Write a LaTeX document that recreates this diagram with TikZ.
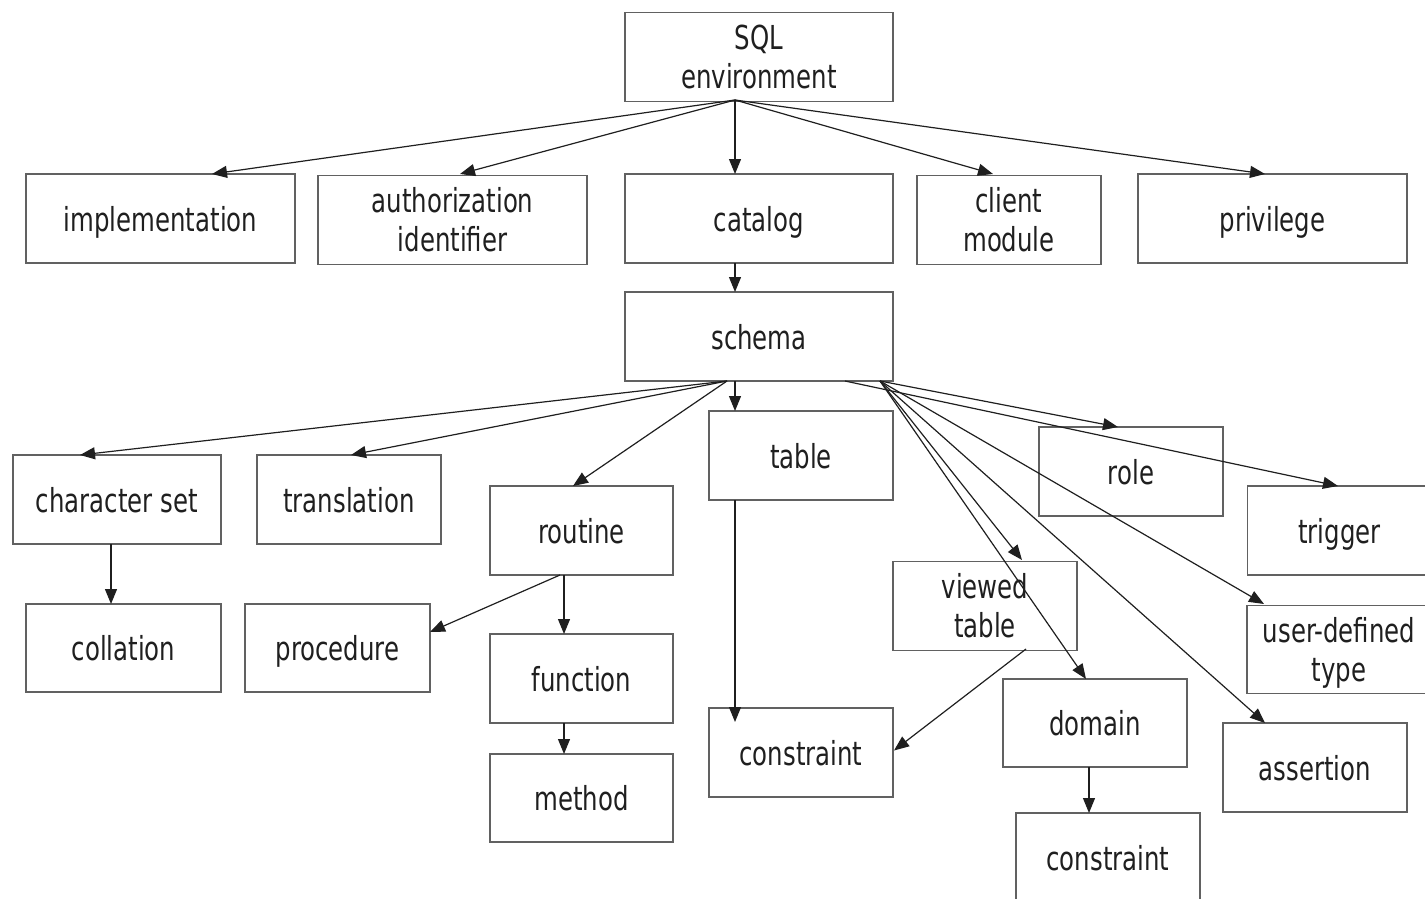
\documentclass[tikz,border=0pt]{standalone}
\usepackage{fontspec}
\setmainfont{DejaVu Sans}[FakeStretch=0.74]
\usetikzlibrary{arrows.meta}
\definecolor{boxgray}{gray}{0.38}
\definecolor{linec}{gray}{0.12}
\definecolor{textc}{gray}{0.12}
\begin{document}
\begin{tikzpicture}[x=1pt,y=-1pt,
  box/.style={draw=boxgray, line width=1.7pt, inner sep=0pt, outer sep=0pt,
    align=center, text=textc, font=\fontsize{33}{39}\selectfont},
  one/.style={box, text height=25pt, text depth=0pt},
  arr/.style={draw=linec, line width=1.2pt, -{Triangle[length=15pt,width=12pt]}}]
\useasboundingbox (0,0) rectangle (1425,899);
\clip (0,0) rectangle (1425,899);
% level 0
\node[box, minimum width=268pt, minimum height=89pt] (sql) at (759,57) {SQL\\environment};
% level 1
\node[one, minimum width=269pt, minimum height=89pt] (impl) at (160.5,218.5) {implementation};
\node[box, minimum width=269pt, minimum height=89pt] (auth) at (452.5,220) {authorization\\identifier};
\node[one, minimum width=268pt, minimum height=89pt] (catalog) at (759,218.5) {catalog};
\node[box, minimum width=184pt, minimum height=89pt] (client) at (1009,220) {client\\module};
\node[one, minimum width=269pt, minimum height=89pt] (priv) at (1272.5,218.5) {privilege};
% schema
\node[one, minimum width=268pt, minimum height=89pt] (schema) at (759,336.5) {schema};
% level 3
\node[one, minimum width=208pt, minimum height=89pt] (charset) at (117,499.5) {character set};
\node[one, minimum width=184pt, minimum height=89pt] (transl) at (349,499.5) {translation};
\node[one, minimum width=183pt, minimum height=89pt] (routine) at (581.5,530.5) {routine};
\node[one, minimum width=184pt, minimum height=89pt] (table) at (801,455.5) {table};
\node[one, minimum width=184pt, minimum height=89pt] (role) at (1131,471.5) {role};
\node[one, minimum width=184pt, minimum height=89pt] (trigger) at (1339.5,530.5) {trigger};
\node[one, minimum width=195pt, minimum height=88pt] (collation) at (123.5,648) {collation};
\node[one, minimum width=185pt, minimum height=88pt] (procedure) at (337.5,648) {procedure};
\node[one, minimum width=183pt, minimum height=89pt] (function) at (581.5,678.5) {function};
\node[one, minimum width=183pt, minimum height=88pt] (method) at (581.5,798) {method};
\node[box, minimum width=184pt, minimum height=89pt] (viewed) at (985,606) {viewed\\table};
\node[box, minimum width=184pt, minimum height=88pt] (udt) at (1339,649.5) {user-defined\\\smash{type}};
\node[one, minimum width=184pt, minimum height=89pt] (constr1) at (801,752.5) {constraint};
\node[one, minimum width=184pt, minimum height=88pt] (domain) at (1095,723) {domain};
\node[one, minimum width=184pt, minimum height=89pt] (assertion) at (1315,767.5) {assertion};
\node[one, minimum width=184pt, minimum height=89pt] (constr2) at (1108,857.5) {constraint};
% connectors from SQL environment
\draw[arr] ([xshift=-24pt,yshift=1.5pt]sql.south) -- ([xshift=51.5pt]impl.north);
\draw[arr] ([xshift=-24pt,yshift=1.5pt]sql.south) -- ([xshift=7.5pt,yshift=1.5pt]auth.north);
\draw[arr] ([xshift=-24pt,yshift=1.5pt]sql.south) -- ([xshift=-24pt]catalog.north);
\draw[arr] ([xshift=-24pt,yshift=1.5pt]sql.south) -- ([xshift=-16pt,yshift=1.5pt]client.north);
\draw[arr] ([xshift=-24pt,yshift=1.5pt]sql.south) -- ([xshift=-7.5pt]priv.north);
\draw[arr] ([xshift=-24pt]catalog.south) -- ([xshift=-24pt]schema.north);
% connectors from schema
\draw[arr] ([xshift=-32pt]schema.south) -- ([xshift=-37pt]charset.north);
\draw[arr] ([xshift=-32pt]schema.south) -- ([xshift=2pt]transl.north);
\draw[arr] ([xshift=-32pt]schema.south) -- ([xshift=-8.5pt]routine.north);
\draw[arr] ([xshift=-24pt]schema.south) -- ([xshift=-66pt]table.north);
\draw[arr] ([xshift=121pt]schema.south) -- ([xshift=-13pt]role.north);
\draw[arr] ([xshift=86pt]schema.south) -- ([xshift=-1.5pt]trigger.north);
\draw[arr] ([xshift=121pt]schema.south) -- ([xshift=37pt,yshift=1.5pt]viewed.north);
\draw[arr] ([xshift=121pt]schema.south) -- ([xshift=-9pt]domain.north);
\draw[arr] ([xshift=121pt]schema.south) -- ([xshift=-75pt,yshift=1.5pt]udt.north);
\draw[arr] ([xshift=121pt]schema.south) -- ([xshift=-50pt]assertion.north);
% other connectors
\draw[arr] ([xshift=-6pt]charset.south) -- ([xshift=-12.5pt]collation.north);
\draw[arr] ([xshift=-21.5pt]routine.south) -- ([yshift=16pt]procedure.east);
\draw[arr] ([xshift=-17.5pt]routine.south) -- ([xshift=-17.5pt]function.north);
\draw[arr] ([xshift=-17.5pt]function.south) -- ([xshift=-17.5pt]method.north);
\draw[arr] ([xshift=-66pt]table.south) -- ([xshift=-66pt,yshift=-14pt]constr1.north);
\draw[arr] ([xshift=41pt,yshift=1.5pt]viewed.south) -- ([xshift=1pt,yshift=2pt]constr1.east);
\draw[arr] ([xshift=-6pt]domain.south) -- ([xshift=-19pt]constr2.north);
\end{tikzpicture}
\end{document}
